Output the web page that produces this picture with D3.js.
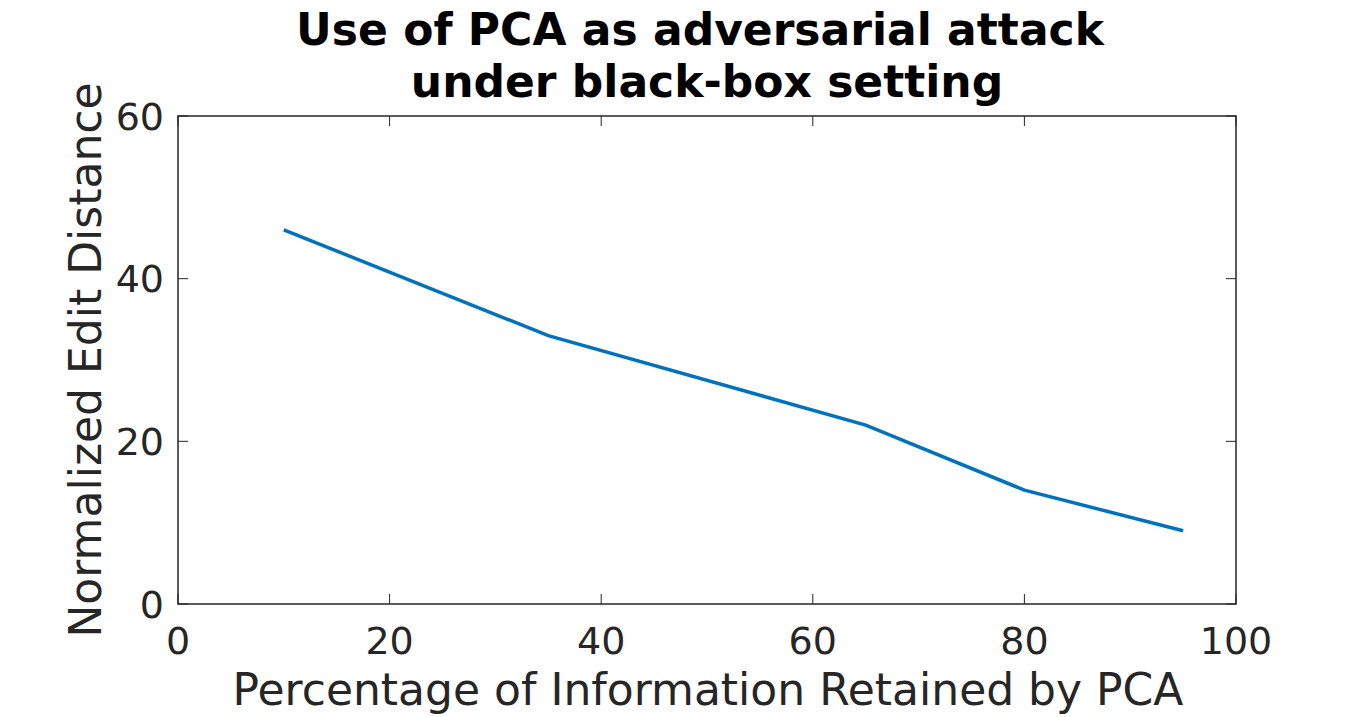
<!DOCTYPE html>
<html><head><meta charset="utf-8">
<script src="https://cdn.jsdelivr.net/npm/d3@7"></script>
<style>body{margin:0;background:#fff;} text{font-family:"DejaVu Sans",sans-serif;fill:#262626;}</style>
</head><body><svg id="c" width="1367" height="717"></svg>
<script>
const xValues = [10, 35, 65, 80, 95];
const yValues = [46, 33, 22, 14, 9];
const xTicks = [0, 20, 40, 60, 80, 100];
const yTicks = [0, 20, 40, 60];
const titleLines = ["Use of PCA as adversarial attack", "under black-box setting"];
const xLabel = "Percentage of Information Retained by PCA";
const yLabel = "Normalized Edit Distance";

const svg = d3.select("#c");
const L = 178, R = 1236, T = 116, B = 604;
const x = d3.scaleLinear().domain([0, 100]).range([L, R]);
const y = d3.scaleLinear().domain([0, 60]).range([B, T]);
const axisColor = "#262626";

const tl = 10;
const g = svg.append("g");
xTicks.forEach(t => {
  g.append("line").attr("x1", x(t)).attr("x2", x(t)).attr("y1", B).attr("y2", B - tl).attr("stroke", axisColor);
  g.append("line").attr("x1", x(t)).attr("x2", x(t)).attr("y1", T).attr("y2", T + tl).attr("stroke", axisColor);
  g.append("text").attr("x", x(t)).attr("y", 654).attr("text-anchor", "middle").attr("font-size", 38).text(t);
});
yTicks.forEach(t => {
  g.append("line").attr("x1", L).attr("x2", L + tl).attr("y1", y(t)).attr("y2", y(t)).attr("stroke", axisColor);
  g.append("line").attr("x1", R).attr("x2", R - tl).attr("y1", y(t)).attr("y2", y(t)).attr("stroke", axisColor);
  g.append("text").attr("x", 164).attr("y", y(t)).attr("dy", "0.36em").attr("text-anchor", "end").attr("font-size", 38).text(t);
});
svg.append("rect").attr("x", L).attr("y", T).attr("width", R - L).attr("height", B - T)
  .attr("fill", "none").attr("stroke", axisColor).attr("stroke-width", 1.5);

const data = xValues.map((v, i) => [v, yValues[i]]);
svg.append("path").datum(data)
  .attr("d", d3.line().x(d => x(d[0])).y(d => y(d[1])))
  .attr("fill", "none").attr("stroke", "#0072BD").attr("stroke-width", 3.5);

const titleX = [700, 707];
titleLines.forEach((s, i) => {
  svg.append("text").attr("x", titleX[i]).attr("y", 45 + i * 52).attr("text-anchor", "middle")
    .attr("font-size", 44).attr("font-weight", "bold").style("fill", "#000").text(s);
});
svg.append("text").attr("x", 708).attr("y", 705).attr("text-anchor", "middle").attr("font-size", 44).text(xLabel);
svg.append("text").attr("transform", "translate(101,360) rotate(-90)").attr("text-anchor", "middle")
  .attr("font-size", 44).text(yLabel);
</script></body></html>
